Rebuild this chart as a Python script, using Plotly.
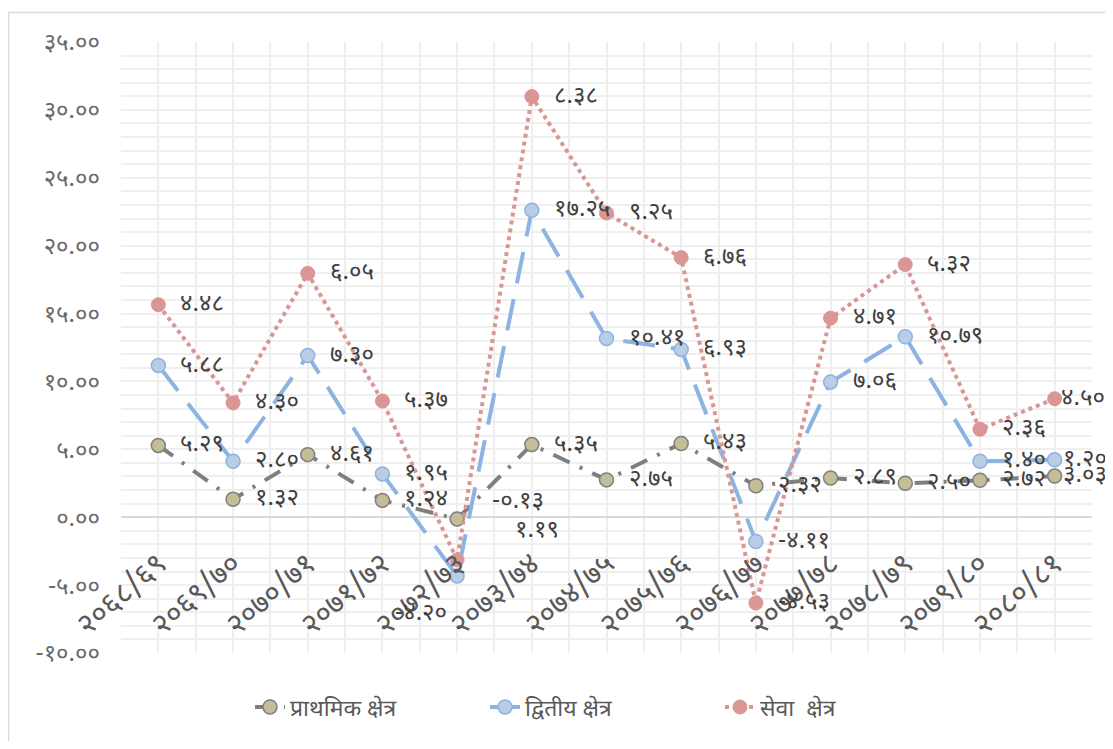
import plotly.graph_objects as go

categories = ["2068/69", "2069/70", "2070/71", "2071/72", "2072/73", "2073/74", "2074/75",
              "2075/76", "2076/77", "2077/78", "2078/79", "2079/80", "2080/81"]
primary = [5.29, 1.32, 4.61, 1.24, -0.13, 5.35, 2.75, 5.43, 2.32, 2.89, 2.50, 2.72, 3.03]
secondary = [5.88, 2.80, 7.30, 1.95, -4.20, 17.25, 10.41, 6.93, -4.11, 7.06, 10.79, 1.40, 1.20]
service = [4.48, 4.30, 6.05, 5.37, 1.19, 8.38, 9.25, 6.76, -4.53, 4.71, 5.32, 2.36, 4.50]
series_names = ["प्राथमिक क्षेत्र", "द्वितीय क्षेत्र", "सेवा  क्षेत्र"]
y_ticks = [-10, -5, 0, 5, 10, 15, 20, 25, 30, 35]

DEV = str.maketrans("0123456789", "०१२३४५६७८९")


def dev(s):
    return s.translate(DEV)


FONT = "Noto Sans Devanagari, Noto Sans, Lohit Devanagari, Mangal, sans-serif"

n = len(categories)
xs = list(range(n))
cum1 = primary[:]
cum2 = [a + b for a, b in zip(cum1, secondary)]
cum3 = [a + b for a, b in zip(cum2, service)]

fig = go.Figure()
styles = [
    dict(line=dict(color="#7f7f7f", width=4, dash="18px,11px,3px,11px"),
         marker=dict(size=14, color="#c4bd97", line=dict(color="#7f7f7f", width=1.5))),
    dict(line=dict(color="#8db3e2", width=4, dash="32px,16px"),
         marker=dict(size=14, color="#b9cde5", line=dict(color="#8db3e2", width=1.5))),
    dict(line=dict(color="#d99694", width=4, dash="dot"),
         marker=dict(size=14, color="#d99694", line=dict(color="#d99694", width=1))),
]
for name, ys, st in zip(series_names, [cum1, cum2, cum3], styles):
    fig.add_trace(go.Scatter(x=xs, y=ys, mode="lines+markers", name=name,
                             line=st["line"], marker=st["marker"]))

# data labels (value of each component, placed at stacked position)
special = {  # (series index, point index): (xshift, yshift, xanchor)
    (0, 4): (33, 17, "left"),
    (2, 4): (56, 29, "left"),
    (1, 4): (-8, -38, "right"),
    (0, n - 1): (6, 0, "left"),
    (1, n - 1): (6, 0, "left"),
    (2, n - 1): (4, 0, "left"),
}
for si, (vals, ys) in enumerate(zip([primary, secondary, service], [cum1, cum2, cum3])):
    for i in range(n):
        xsft, ysft, anc = special.get((si, i), (20, 0, "left"))
        fig.add_annotation(x=xs[i], y=ys[i], text=dev(f"{vals[i]:.2f}"), showarrow=False,
                           xanchor=anc, yanchor="middle", xshift=xsft, yshift=ysft,
                           font=dict(family=FONT, size=24, color="#404040"))

W, H = 1105, 733
L, R, T, B = 113, 21, 34, 77
pw, ph = W - L - R, H - T - B

fig.update_layout(
    width=W, height=H,
    margin=dict(l=L, r=R, t=T, b=B),
    paper_bgcolor="white", plot_bgcolor="white",
    showlegend=True,
    legend=dict(orientation="h", x=(250 - 8 - L) / pw, xanchor="left", y=-55 / ph,
                yanchor="middle", entrywidth=190, entrywidthmode="pixels",
                font=dict(family=FONT, size=23, color="#595959")),
    xaxis=dict(range=[-0.5, n - 0.5], tickmode="array", tickvals=xs,
               ticktext=[dev(c) for c in categories], tickangle=-41,
               tickfont=dict(family=FONT, size=30, color="#595959"),
               anchor="free", position=10 / 45, showline=False, ticks="",
               ticklabelstandoff=22,
               showgrid=True, gridcolor="#efefef", gridwidth=1.5, zeroline=False,
               automargin=False,
               minor=dict(tickmode="array", tickvals=[k - 0.5 for k in range(n + 1)],
                          showgrid=True, gridcolor="#efefef", gridwidth=1.5)),
    yaxis=dict(range=[-10, 35], tickmode="array", tickvals=y_ticks,
               ticktext=[dev(f"{v:.2f}") for v in y_ticks],
               tickfont=dict(family=FONT, size=24, color="#6a6a6a"),
               showgrid=True, gridcolor="#efefef", gridwidth=1.5,
               zeroline=True, zerolinecolor="#d9d9d9", zerolinewidth=2,
               showline=False, ticks="", ticklabelstandoff=20, automargin=False,
               minor=dict(dtick=1, showgrid=True, gridcolor="#efefef", gridwidth=1.5)),
)
fig.add_shape(type="rect", xref="paper", yref="paper",
              x0=(0.5 - L) / pw, x1=(W + 20 - L) / pw,
              y0=-(B + 20) / ph, y1=(T - 4) / ph + 1,
              line=dict(color="#d9d9d9", width=1.5), fillcolor="rgba(0,0,0,0)", layer="below")

fig.write_html("out.html", post_script="document.body.style.overflow='hidden';")
